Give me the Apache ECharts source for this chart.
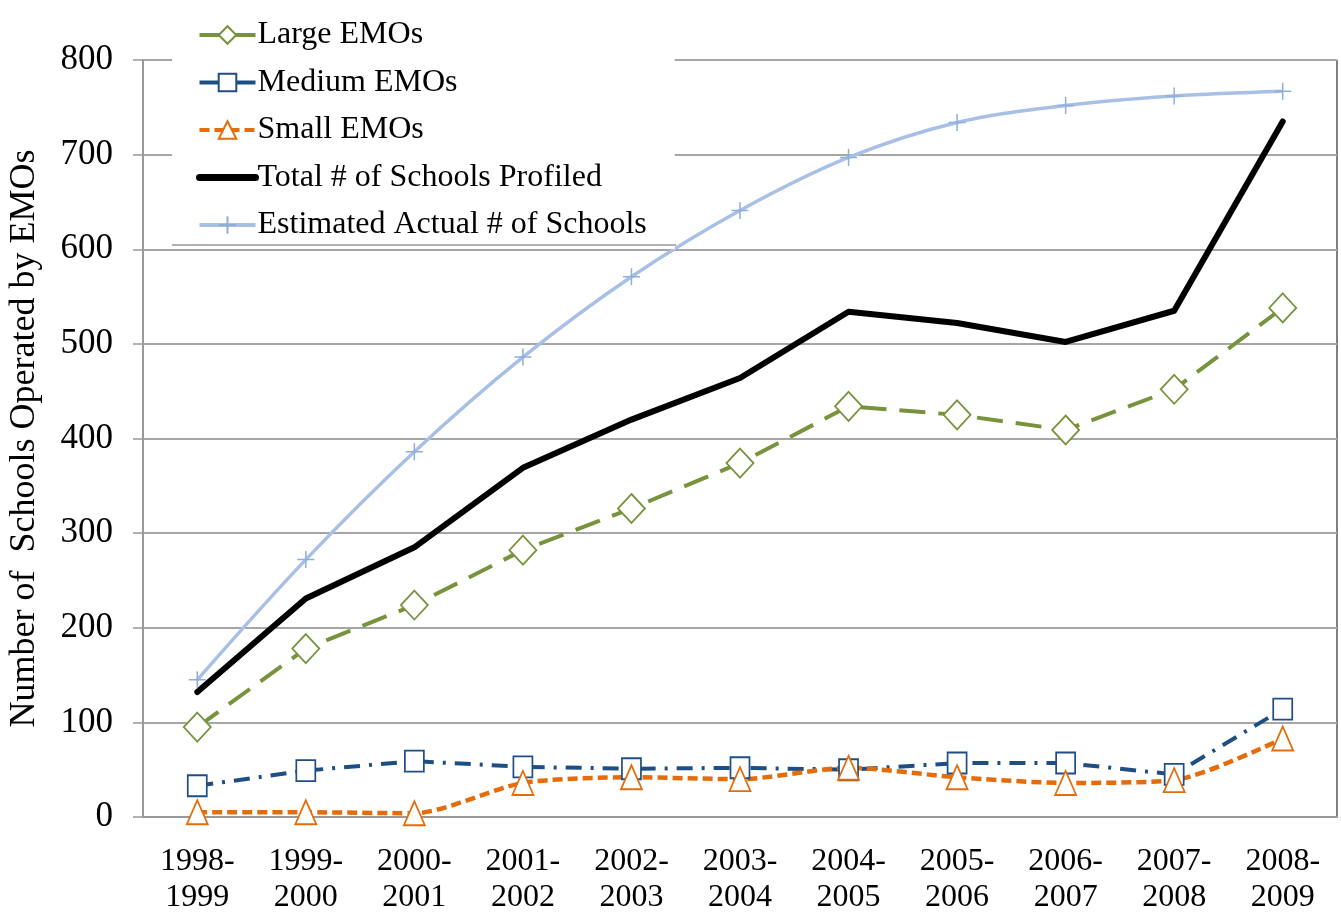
<!DOCTYPE html>
<html>
<head>
<meta charset="utf-8">
<script src="https://cdn.jsdelivr.net/npm/echarts@6/dist/echarts.min.js"></script>
<style>html,body{margin:0;padding:0;background:#fff}#c{width:1341px;height:915px}</style>
</head>
<body>
<div id="c"></div>
<script>
var categories = ['1998-\n1999','1999-\n2000','2000-\n2001','2001-\n2002','2002-\n2003','2003-\n2004','2004-\n2005','2005-\n2006','2006-\n2007','2007-\n2008','2008-\n2009'];
var largeEMOs = [95, 178, 224, 282, 326, 374, 434, 425, 409, 452, 538];
var mediumEMOs = [33, 49, 59, 53, 51, 52, 50, 57, 57, 45, 114];
var smallEMOs = [5, 5, 4, 36, 42, 40, 52, 42, 36, 39, 83];
var totalProfiled = [132, 231, 285, 369, 420, 464, 534, 522, 502, 535, 735];
var estimatedActual = [145, 272, 386, 486, 571, 641, 697, 734, 752, 762, 767];
var yTicks = [0, 100, 200, 300, 400, 500, 600, 700, 800];

var FONT = '"Liberation Serif", "Times New Roman", serif';
var chart = echarts.init(document.getElementById('c'));
chart.setOption({
  animation: false,
  backgroundColor: '#fff',
  grid: { left: 143, right: 4, top: 60, bottom: 98, show: true, borderColor: '#000', borderWidth: 1,
    containLabel: false, outerBoundsMode: 'none' },
  legend: {
    orient: 'vertical',
    left: 172, top: 12,
    padding: [5, 28, 6, 24],
    itemWidth: 56, itemHeight: 22, itemGap: 11.5,
    backgroundColor: '#fff',
    textStyle: { fontFamily: FONT, fontSize: 32, color: '#000', lineHeight: 36, padding: [0, 0, 0, -3] },
    data: [
      { name: 'Large EMOs', lineStyle: { width: 4, type: 'solid' } },
      { name: 'Medium EMOs', lineStyle: { width: 4, type: 'solid' } },
      { name: 'Small EMOs', lineStyle: { width: 4, type: [10, 5] } },
      { name: 'Total # of Schools Profiled', lineStyle: { width: 7, type: 'solid' }, itemStyle: { opacity: 0 } },
      { name: 'Estimated Actual # of Schools', lineStyle: { width: 4, type: 'solid' } }
    ]
  },
  graphic: [
    { type: 'line', shape: { x1: 172, y1: 245, x2: 676, y2: 245 }, style: { stroke: '#999', lineWidth: 1.5 }, z: 10 }
  ],
  xAxis: {
    type: 'category',
    data: categories,
    boundaryGap: true,
    axisLine: { lineStyle: { color: '#999', width: 2 } },
    axisTick: { show: false },
    axisLabel: { fontFamily: FONT, fontSize: 32, color: '#000', lineHeight: 36, margin: 27 }
  },
  yAxis: {
    type: 'value',
    min: 0, max: 800, interval: 100,
    name: 'Number of  Schools Operated by EMOs',
    nameLocation: 'middle',
    nameGap: 100,
    nameTextStyle: { fontFamily: FONT, fontSize: 36, color: '#000' },
    axisLine: { show: true, lineStyle: { color: '#999', width: 2 } },
    axisTick: { show: true, length: 10, lineStyle: { color: '#999', width: 1.5 } },
    splitLine: { lineStyle: { color: '#a6a6a6', width: 2 } },
    axisLabel: { fontFamily: FONT, fontSize: 35, color: '#000', margin: 30,
      formatter: function (v) { return yTicks.indexOf(v) >= 0 ? String(v) : ''; } }
  },
  series: [
    { name: 'Large EMOs', type: 'line', data: largeEMOs,
      symbol: 'diamond', symbolSize: [27, 29],
      lineStyle: { color: '#77933C', width: 4, type: [26, 13] },
      itemStyle: { color: '#fff', borderColor: '#77933C', borderWidth: 1.8 } },
    { name: 'Medium EMOs', type: 'line', data: mediumEMOs,
      symbol: 'rect', symbolSize: [19, 21],
      lineStyle: { color: '#1F4E85', width: 4, type: [16, 9, 3, 9] },
      itemStyle: { color: '#fff', borderColor: '#1F4E85', borderWidth: 1.8 } },
    { name: 'Small EMOs', type: 'line', data: smallEMOs, smooth: 0.25,
      symbol: 'triangle', symbolSize: [21, 24],
      lineStyle: { color: '#E46C0A', width: 4.5, type: [10, 5] },
      itemStyle: { color: '#fff', borderColor: '#E46C0A', borderWidth: 1.8 } },
    { name: 'Total # of Schools Profiled', type: 'line', data: totalProfiled,
      symbol: 'none', lineStyle: { color: '#000', width: 6, cap: 'round', join: 'round' },
      itemStyle: { color: '#000' } },
    { name: 'Estimated Actual # of Schools', type: 'line', data: estimatedActual, smooth: 0.35,
      symbol: 'path://M5,0 L5,10 M0,5 L10,5', symbolSize: 17,
      lineStyle: { color: '#A9C0E6', width: 3.5 },
      itemStyle: { color: 'none', borderColor: '#8FAEDC', borderWidth: 1.5 } }
  ]
});
</script>
</body>
</html>
